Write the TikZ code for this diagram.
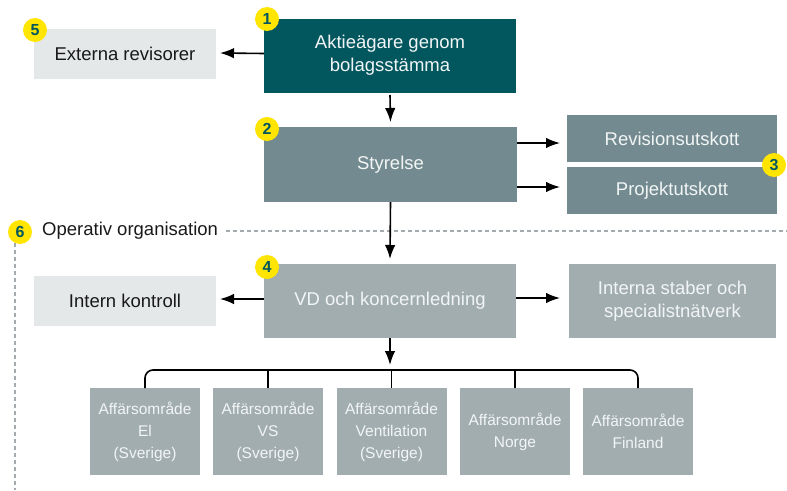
\documentclass[tikz,border=0pt]{standalone}
\usepackage{fontspec}
\setmainfont{Liberation Sans}
\usetikzlibrary{arrows.meta}
\definecolor{dteal}{HTML}{02575F}
\definecolor{mteal}{HTML}{738B90}
\definecolor{lteal}{HTML}{A2ADB0}
\definecolor{lgray}{HTML}{E5E8E9}
\definecolor{badgey}{HTML}{FFE500}
\definecolor{dashc}{HTML}{A3ABAE}
\definecolor{txtw}{HTML}{F2F5F5}
\begin{document}
\begin{tikzpicture}[x=1pt,y=-1pt,
  boxbase/.style={inner sep=0pt, outer sep=0pt, align=center, font=\fontsize{18.5}{23}\selectfont},
  darkbox/.style={boxbase, fill=dteal, text=txtw},
  midbox/.style={boxbase, fill=mteal, text=txtw},
  lightbox/.style={boxbase, fill=lteal, text=txtw},
  palebox/.style={boxbase, fill=lgray, text=black!90},
  areabox/.style={inner sep=0pt, outer sep=0pt, align=center, fill=lteal, text=txtw, font=\fontsize{15.5}{22}\selectfont, minimum width=110pt, minimum height=87pt},
  badge/.style={circle, fill=badgey, text=dteal, inner sep=0pt, minimum size=24pt, font=\bfseries\fontsize{16}{16}\selectfont},
  arr/.style={-{Latex[length=14pt,width=10.5pt]}, line width=1.6pt, black},
  bus/.style={line width=1.6pt, black},
  dashl/.style={dashc, line width=1.2pt, dash pattern=on 4pt off 3pt}]
\useasboundingbox (0,0) rectangle (787,490);
% boxes
\node[darkbox, minimum width=252pt, minimum height=74pt] (aktie) at (390,55.5) {Aktieägare genom\\bolagsstämma};
\node[palebox, minimum width=182pt, minimum height=50pt] (ext) at (125,54) {Externa revisorer};
\node[midbox, minimum width=253pt, minimum height=75pt] (styr) at (390.5,164.5) {Styrelse};
\node[midbox, minimum width=210pt, minimum height=47pt] (rev) at (672,138.5) {Revisionsutskott};
\node[midbox, minimum width=210pt, minimum height=47pt] (proj) at (672,190.5) {Projektutskott};
\node[lightbox, minimum width=252pt, minimum height=74pt] (vd) at (390,301) {VD och koncernledning};
\node[palebox, minimum width=182pt, minimum height=50pt] (ik) at (125,301) {Intern kontroll};
\node[lightbox, minimum width=207pt, minimum height=74pt] (staber) at (672.5,301) {Interna staber och\\specialistnätverk};
% business areas
\node[areabox] (a1) at (145,431.5) {Affärsområde\\El\\(Sverige)};
\node[areabox] (a2) at (268,431.5) {Affärsområde\\VS\\(Sverige)};
\node[areabox] (a3) at (391.5,431.5) {Affärsområde\\Ventilation\\(Sverige)};
\node[areabox] (a4) at (515,431.5) {Affärsområde\\Norge};
\node[areabox] (a5) at (638,431.5) {Affärsområde\\Finland};
% dashed separator
\node[anchor=west, inner sep=0pt, font=\fontsize{18.5}{23}\selectfont, text=black!90] (op) at (42,231) {Operativ organisation};
\coordinate (dr) at (787,231);
\coordinate (vtop) at (15,243);
\coordinate (vbot) at (15,490);
\draw[dashl] ([xshift=8pt]op.east) -- (dr);
\draw[dashl] (vtop) -- (vbot);
% arrows
\draw[arr] ([yshift=2pt]aktie.west) -- ([xshift=4pt,yshift=1pt]ext.east);
\draw[arr] ([yshift=-2.5pt]aktie.south) -- ([yshift=5pt]styr.north);
\draw[arr] ([yshift=21.5pt]styr.east) -- ([xshift=-7pt,yshift=-4.5pt]rev.west);
\draw[arr] ([yshift=-22.5pt]styr.east) -- ([xshift=-7pt,yshift=3.5pt]proj.west);
\draw[arr] (styr.south) -- ([yshift=5pt]vd.north);
\draw[arr] ([yshift=2pt]vd.west) -- ([xshift=4pt,yshift=2pt]ik.east);
\draw[arr] ([yshift=3pt]vd.east) -- ([xshift=-9pt,yshift=3pt]staber.west);
\coordinate (busy) at (390,370);
\draw[arr] (vd.south) -- ([yshift=5pt]busy);
\draw[bus, rounded corners=8pt] (a1.north) -- (a1.north |- busy) -- (a5.north |- busy) -- (a5.north);
\draw[bus] (a2.north) -- (a2.north |- busy);
\draw[bus] (a3.north) -- (a3.north |- busy);
\draw[bus] (a4.north) -- (a4.north |- busy);
% badges
\node[badge] (b1) at (267,19) {1};
\node[badge] (b2) at (267,129) {2};
\node[badge] (b3) at (774,165) {3};
\node[badge] (b4) at (267,267) {4};
\node[badge] (b5) at (35,30) {5};
\node[badge] (b6) at (20,232) {6};
\end{tikzpicture}
\end{document}
